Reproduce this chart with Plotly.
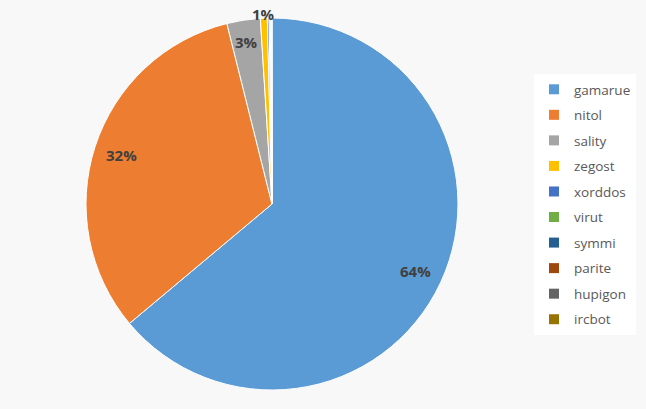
import math
import plotly.graph_objects as go

# botnet family share (%)
families = ["gamarue", "nitol", "sality", "zegost", "xorddos",
            "virut", "symmi", "parite", "hupigon", "ircbot"]
shares = [63.9, 32.2, 2.9, 0.6, 0.15, 0.1, 0.06, 0.04, 0.03, 0.02]
colors = ["#5B9BD5", "#ED7D31", "#A5A5A5", "#FFC000", "#4472C4",
          "#70AD47", "#255E91", "#9E480E", "#636363", "#997300"]

W, H = 646, 409
cx, cy, r = 272, 204, 186

fig = go.Figure()
fig.add_trace(go.Pie(
    labels=families,
    values=shares,
    textinfo="none",
    marker=dict(colors=colors, line=dict(color="white", width=1)),
    sort=False,
    direction="clockwise",
    rotation=0,
    showlegend=False,
    domain=dict(x=[(cx - r) / W, (cx + r) / W],
                y=[(H - cy - r) / H, (H - cy + r) / H]),
))

# percentage labels, placed along each slice's middle angle
total = sum(shares)
cum = 0
for v in shares:
    mid = 2 * math.pi * (cum + v / 2) / total
    cum += v
    if v < 0.5:
        continue
    k = 0.85 if v >= 10 else (0.88 if v >= 2 else 1.02)
    px_ = cx + k * r * math.sin(mid)
    py_ = cy - k * r * math.cos(mid)
    fig.add_annotation(
        x=px_ / W, y=1 - py_ / H, xref="paper", yref="paper",
        xanchor="center", yanchor="middle",
        text=f"<b>{round(v / total * 100)}%</b>", showarrow=False,
        font=dict(family="Open Sans", size=15, color="#404040"),
    )

# legend entries, one group each for the wider row spacing
for name, c in zip(families, colors):
    fig.add_trace(go.Scatter(
        x=[None], y=[None], mode="markers", name=name, legendgroup=name,
        marker=dict(symbol="square", size=10, color=c),
    ))

fig.update_layout(
    width=W, height=H,
    margin=dict(l=0, r=0, t=0, b=0),
    paper_bgcolor="#f8f8f8",
    plot_bgcolor="rgba(0,0,0,0)",
    xaxis=dict(visible=False),
    yaxis=dict(visible=False),
    showlegend=True,
    legend=dict(
        x=534 / W, y=0.5, xanchor="left", yanchor="middle",
        bgcolor="white",
        font=dict(family="Open Sans", size=13.5, color="#595959"),
        tracegroupgap=5, itemwidth=30,
    ),
)

fig.write_html("out.html", config={"displayModeBar": False},
               post_script="document.body.style.margin='0';")
